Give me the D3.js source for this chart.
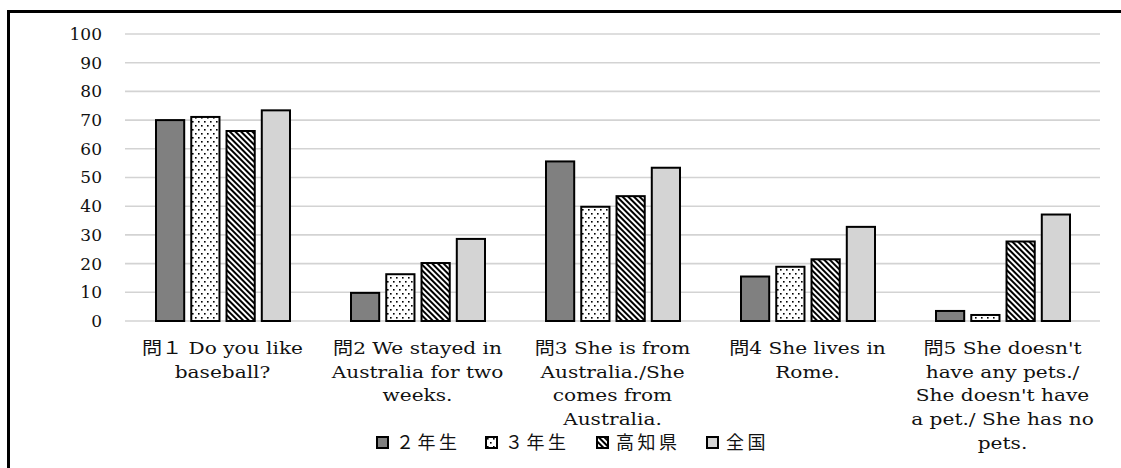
<!DOCTYPE html>
<html>
<head>
<meta charset="utf-8">
<script src="https://cdn.jsdelivr.net/npm/d3@7"></script>
<style>
  html, body { margin: 0; padding: 0; background: #fff; }
  svg { display: block; }
  text { font-family: "DejaVu Serif", "Liberation Serif", "Noto Sans CJK JP", serif; fill: #111; }
  .jp { font-family: "Noto Sans CJK JP", sans-serif; }
</style>
</head>
<body>
<svg id="chart" width="1121" height="468"></svg>
<script>
// Question labels (line breaks as shown under each group)
const categories = [
  "問１ Do you like\nbaseball?",
  "問2  We stayed in\nAustralia for two\nweeks.",
  "問3 She is from\nAustralia./She\ncomes from\nAustralia.",
  "問4 She lives in\nRome.",
  "問5 She doesn't\nhave any pets./\nShe doesn't have\na pet./ She has no\npets."
];
const seriesNames = ["２年生", "３年生", "高知県", "全国"];
const grade2   = [70.0, 9.8, 55.6, 15.5, 3.5];
const grade3   = [71.1, 16.3, 39.8, 18.9, 2.1];
const kochi    = [66.2, 20.2, 43.5, 21.5, 27.7];
const national = [73.4, 28.6, 53.4, 32.8, 37.1];
const seriesValues = [grade2, grade3, kochi, national];
const yTicks = [0, 10, 20, 30, 40, 50, 60, 70, 80, 90, 100];

const svg = d3.select("#chart");

// Patterns for the four series
const defs = svg.append("defs");
const pDots = defs.append("pattern").attr("id", "pat-dots")
  .attr("patternUnits", "userSpaceOnUse").attr("width", 6).attr("height", 8);
pDots.append("rect").attr("width", 6).attr("height", 8).attr("fill", "#fff");
pDots.append("rect").attr("x", 1).attr("y", 1).attr("width", 1.6).attr("height", 1.6).attr("fill", "#000");
pDots.append("rect").attr("x", 4).attr("y", 5).attr("width", 1.6).attr("height", 1.6).attr("fill", "#000");

const pStripe = defs.append("pattern").attr("id", "pat-stripe")
  .attr("patternUnits", "userSpaceOnUse").attr("width", 4).attr("height", 4)
  .attr("patternTransform", "rotate(-45)");
pStripe.append("rect").attr("width", 4).attr("height", 4).attr("fill", "#fff");
pStripe.append("rect").attr("width", 2).attr("height", 4).attr("fill", "#000");

const fills = ["#808080", "url(#pat-dots)", "url(#pat-stripe)", "#d4d4d4"];

// Outer frame
svg.append("rect").attr("x", 8.5).attr("y", 11.5).attr("width", 1200).attr("height", 600)
  .attr("fill", "none").attr("stroke", "#000").attr("stroke-width", 3);

const x0 = d3.scaleBand().domain(d3.range(categories.length)).range([125, 1100]).padding(0);
const x1 = d3.scaleBand().domain(d3.range(seriesNames.length)).range([31, 165]).paddingInner(0.2);
const y = d3.scaleLinear().domain([0, 100]).range([321, 34]);

// Gridlines
svg.append("g").selectAll("line").data(yTicks).join("line")
  .attr("x1", 125).attr("x2", 1100)
  .attr("y1", d => y(d)).attr("y2", d => y(d))
  .attr("stroke", "#d3d3d3").attr("stroke-width", 1.6);

// Y axis labels
const yAxis = d3.axisLeft(y).tickValues(yTicks).tickSize(0).tickPadding(0);
const gy = svg.append("g").attr("transform", "translate(102,0)").call(yAxis);
gy.select(".domain").remove();
gy.selectAll("text").attr("font-size", 17).attr("fill", "#111")
  .style("font-family", "'DejaVu Serif', serif");

// Bars
const groups = svg.append("g").selectAll("g").data(categories).join("g")
  .attr("transform", (d, i) => `translate(${x0(i)},0)`);
groups.selectAll("rect")
  .data((d, i) => seriesValues.map((s, k) => ({ k, v: s[i] })))
  .join("rect")
  .attr("x", d => x1(d.k))
  .attr("width", x1.bandwidth())
  .attr("y", d => y(d.v))
  .attr("height", d => y(0) - y(d.v))
  .attr("fill", d => fills[d.k])
  .attr("stroke", "#000").attr("stroke-width", 2);

// Category labels (slightly widened serif face)
const labels = svg.append("g").selectAll("text").data(categories).join("text")
  .attr("text-anchor", "middle").attr("font-size", 17.5)
  .attr("transform", (d, i) => `translate(${x0(i) + x0.bandwidth() / 2},354) scale(1.15,1)`);
labels.selectAll("tspan").data(d => d.split("\n")).join("tspan")
  .attr("x", 0).attr("dy", (d, j) => j === 0 ? 0 : 23.7).text(d => d);

// Legend
const legendX = [377, 486, 597, 707];
const legend = svg.append("g").selectAll("g").data(seriesNames).join("g")
  .attr("transform", (d, i) => `translate(${legendX[i]},437)`);
legend.append("rect").attr("width", 11).attr("height", 11)
  .attr("fill", (d, i) => fills[i]).attr("stroke", "#000").attr("stroke-width", 2);
legend.append("text").attr("class", "jp").attr("x", 19).attr("y", 12)
  .attr("font-size", 18).attr("letter-spacing", 3.5).text(d => d);
</script>
</body>
</html>
